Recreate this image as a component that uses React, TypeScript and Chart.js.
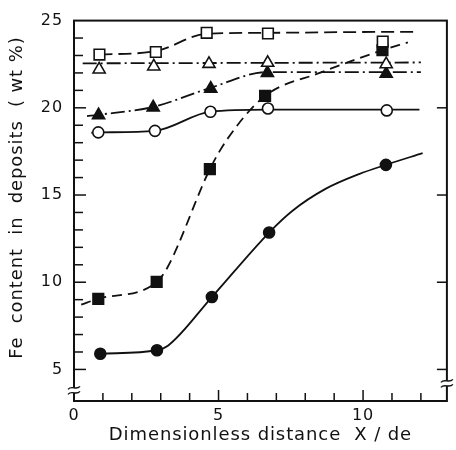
import { useEffect, useRef } from 'react';
import { Chart, registerables } from 'chart.js';

Chart.register(...registerables);

// ---- axes ----
const X_TITLE = 'Dimensionless distance  X / de';
const Y_TITLE = '    Fe  content  in  deposits  ( wt %)';
const X_MIN = 0;
const X_MAX = 12.9;
const Y_MIN = 3.19;
const Y_MAX = 25;
const X_TICKS = [1, 2, 3, 4, 5, 6, 7, 8, 9, 10, 11, 12];
const Y_TICKS = [5, 6, 7, 8, 9, 10, 11, 12, 13, 14, 15, 16, 17, 18, 19, 20, 21, 22, 23, 24];
const RIGHT_TICKS = [5, 10, 15, 20];
const LABEL_STEP = 5;
const BREAK_LEFT = 3.8;
const BREAK_RIGHT = 4.2;

// ---- measured points ----
const openSquareX = [0.88, 2.83, 4.59, 6.71, 10.68];
const openSquareY = [23.05, 23.2, 24.3, 24.26, 23.8];
const openTriangleX = [0.87, 2.76, 4.67, 6.7, 10.8];
const openTriangleY = [22.2, 22.37, 22.52, 22.58, 22.5];
const filledTriangleX = [0.85, 2.74, 4.73, 6.69, 10.8];
const filledTriangleY = [19.58, 20.02, 21.1, 22.0, 21.95];
const openCircleX = [0.84, 2.8, 4.72, 6.71, 10.82];
const openCircleY = [18.59, 18.68, 19.77, 19.96, 19.85];
const filledSquareX = [0.84, 2.86, 4.7, 6.61, 10.67];
const filledSquareY = [9.05, 10.02, 16.48, 20.68, 23.3];
const filledCircleX = [0.91, 2.87, 4.77, 6.75, 10.79];
const filledCircleY = [5.9, 6.1, 9.15, 12.85, 16.73];

// ---- fitted curves ----
const openSquareCurveX = [0.88, 2.83, 4.6, 6.7, 10.7, 11.9];
const openSquareCurveY = [23.05, 23.25, 24.25, 24.3, 24.35, 24.35];
const openTriangleCurveX = [0.3, 12.0];
const openTriangleCurveY = [22.55, 22.6];
const filledTriangleCurveX = [0.45, 0.85, 2.74, 4.73, 6.69, 12.0];
const filledTriangleCurveY = [19.52, 19.6, 20.05, 21.15, 22.05, 22.05];
const openCircleCurveX = [0.6, 0.84, 2.8, 4.72, 6.71, 10.82, 11.95];
const openCircleCurveY = [18.57, 18.59, 18.68, 19.78, 19.9, 19.9, 19.9];
const filledSquareCurveX = [0.25, 0.84, 2.86, 3.25, 4.7, 5.3, 6.61, 8.5, 10.67, 11.55];
const filledSquareCurveY = [8.72, 9.05, 10.0, 10.9, 16.48, 18.2, 20.68, 22.0, 23.3, 23.75];
const filledCircleCurveX = [0.91, 2.87, 3.25, 4.77, 6.75, 7.56, 8.7, 9.86, 10.79, 12.06];
const filledCircleCurveY = [5.9, 6.1, 6.36, 9.15, 12.85, 14.1, 15.35, 16.2, 16.73, 17.4];

const zip = (xs: number[], ys: number[]) => xs.map((x, i) => ({ x, y: ys[i] }));

const INK = '#111';
const DASH = [13, 6];
const DASH_SHORT = [10, 6];
const DASH_DOT = [14, 4, 2, 4];

function marker(data: any, style: string, filled: boolean, radius: number) {
  return {
    type: 'scatter',
    data,
    showLine: false,
    pointStyle: style,
    pointRadius: radius,
    pointHoverRadius: radius,
    pointBackgroundColor: filled ? INK : '#fff',
    pointBorderColor: INK,
    pointBorderWidth: 1.6,
    order: 0,
  };
}

function curve(data: any, dash: number[]) {
  return {
    type: 'scatter',
    data,
    showLine: true,
    borderColor: INK,
    borderWidth: 1.8,
    borderDash: dash,
    pointRadius: 0,
    pointHoverRadius: 0,
    cubicInterpolationMode: 'monotone',
    fill: false,
    order: 1,
  };
}

const spacingPlugin = {
  id: 'spacing',
  beforeDraw(chart: any) {
    chart.ctx.letterSpacing = '0.9px';
  },
};

const framePlugin = {
  id: 'frame',
  afterDraw(chart: any) {
    const { ctx, chartArea: a, scales } = chart;
    const xs = scales.x;
    const ys = scales.y;
    ctx.save();
    ctx.strokeStyle = INK;
    ctx.setLineDash([]);
    ctx.lineWidth = 2;
    ctx.strokeRect(a.left, a.top, a.right - a.left, a.bottom - a.top);
    ctx.lineWidth = 1.5;
    const seg = (x1: number, y1: number, x2: number, y2: number) => {
      ctx.beginPath();
      ctx.moveTo(x1, y1);
      ctx.lineTo(x2, y2);
      ctx.stroke();
    };
    for (const v of Y_TICKS) {
      const py = ys.getPixelForValue(v);
      seg(a.left, py, a.left + (v % LABEL_STEP === 0 ? 12 : 9), py);
    }
    for (const v of RIGHT_TICKS) {
      const py = ys.getPixelForValue(v);
      seg(a.right, py, a.right - 10, py);
    }
    for (const v of X_TICKS) {
      const px = xs.getPixelForValue(v);
      seg(px, a.bottom, px, a.bottom - (v % LABEL_STEP === 0 ? 11 : 8));
    }
    // axis breaks
    const brk = (ax: number, v: number) => {
      const py = ys.getPixelForValue(v);
      ctx.fillStyle = '#fff';
      ctx.fillRect(ax - 3, py - 2.5, 6, 5);
      ctx.lineWidth = 1.4;
      for (const d of [-2.5, 2.5]) {
        ctx.beginPath();
        ctx.moveTo(ax - 6, py + d + 1.5);
        ctx.bezierCurveTo(ax - 2, py + d - 3, ax + 2, py + d + 3, ax + 6, py + d - 1.5);
        ctx.stroke();
      }
    };
    brk(a.left, BREAK_LEFT);
    brk(a.right, BREAK_RIGHT);
    ctx.restore();
  },
};

export default function App() {
  const ref = useRef<HTMLCanvasElement | null>(null);

  useEffect(() => {
    if (!ref.current) return;
    Chart.defaults.font.family = '"DejaVu Sans", sans-serif';
    Chart.defaults.color = INK;
    const chart = new Chart(ref.current, {
      type: 'scatter',
      data: {
        datasets: [
          marker(zip(openSquareX, openSquareY), 'rect', false, 7.5),
          marker(zip(filledSquareX, filledSquareY), 'rect', true, 7.5),
          marker(zip(openTriangleX, openTriangleY), 'triangle', false, 7),
          marker(zip(filledTriangleX, filledTriangleY), 'triangle', true, 7),
          marker(zip(openCircleX, openCircleY), 'circle', false, 5.5),
          marker(zip(filledCircleX, filledCircleY), 'circle', true, 5.5),
          curve(zip(openSquareCurveX, openSquareCurveY), DASH),
          curve(zip(openTriangleCurveX, openTriangleCurveY), DASH_DOT),
          curve(zip(filledTriangleCurveX, filledTriangleCurveY), DASH_DOT),
          curve(zip(openCircleCurveX, openCircleCurveY), []),
          curve(zip(filledSquareCurveX, filledSquareCurveY), DASH_SHORT),
          curve(zip(filledCircleCurveX, filledCircleCurveY), []),
        ] as any,
      },
      options: {
        animation: false,
        responsive: false,
        events: [],
        layout: { padding: { left: 0, right: 6, top: 14, bottom: 0 } },
        plugins: { legend: { display: false }, tooltip: { enabled: false } },
        scales: {
          x: {
            type: 'linear',
            min: X_MIN,
            max: X_MAX,
            border: { display: false },
            grid: { display: false, drawTicks: false },
            ticks: {
              stepSize: 1,
              autoSkip: false,
              maxRotation: 0,
              padding: 5,
              font: { size: 16 },
              callback: (v: any) => (Number(v) % LABEL_STEP === 0 ? String(v) : ''),
            },
            title: {
              display: true,
              text: X_TITLE,
              font: { size: 18 },
              padding: { top: 0, bottom: 4 },
            },
            afterFit: (s: any) => {
              s.height = 49;
            },
          },
          y: {
            type: 'linear',
            min: Y_MIN,
            max: Y_MAX,
            border: { display: false },
            grid: { display: false, drawTicks: false },
            ticks: {
              stepSize: 1,
              autoSkip: false,
              padding: 11,
              font: { size: 16 },
              callback: (v: any) => (Number(v) % LABEL_STEP === 0 ? String(v) : ''),
            },
            title: {
              display: true,
              text: Y_TITLE,
              font: { size: 18 },
              padding: { top: 7, bottom: 0 },
            },
            afterFit: (s: any) => {
              s.width = 74;
            },
          },
        },
      } as any,
      plugins: [spacingPlugin, framePlugin],
    });
    return () => chart.destroy();
  }, []);

  return (
    <div style={{ position: 'absolute', left: 0, top: 0, width: 456, height: 450, background: '#fff' }}>
      <canvas ref={ref} width={456} height={450} style={{ display: 'block' }} />
    </div>
  );
}
